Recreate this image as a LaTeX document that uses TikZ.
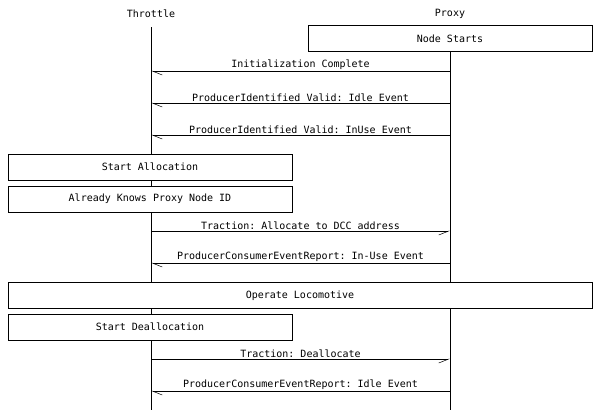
\documentclass[tikz,border=0pt]{standalone}
\usepackage{fontspec}
\setmonofont{DejaVu Sans Mono}
\usetikzlibrary{arrows.meta,positioning}
\tikzset
{
    entity/.style   = {font=\ttfamily\fontsize{10}{12}\selectfont, inner sep=0pt},
    action/.style   = {rectangle, draw=black, fill=white, line width=0.8pt, minimum width=284pt, minimum height=26pt, inner sep=0pt, font=\ttfamily\fontsize{10}{12}\selectfont},
    lifeline/.style = {line width=0.8pt},
    msgleft/.style  = {line width=0.8pt, -{Straight Barb[harpoon, length=10pt, width=8pt, line width=0.5pt]}},
    msgright/.style = {line width=0.8pt, -{Straight Barb[harpoon, swap, length=10pt, width=8pt, line width=0.5pt]}},
    msglabel/.style = {above, inner sep=1.2pt, font=\ttfamily\fontsize{10}{12}\selectfont}
}

\begin{document}
\begin{tikzpicture}[x=1pt, y=-1pt]

   \newcommand\THROTTLEX{151}
   \newcommand\PROXYX{450}

   \useasboundingbox (0,0) rectangle (600,410);

   % entities
   \node (th)   [entity] at (\THROTTLEX, 14) {Throttle};
   \node (px)   [entity] at (\PROXYX, 14)    {Proxy};
   \coordinate (thtop) at (\THROTTLEX, 27);
   \coordinate (pxtop) at (\PROXYX, 27);
   \coordinate (thend) at (\THROTTLEX, 410);
   \coordinate (pxend) at (\PROXYX, 410);

   \draw[lifeline] (thtop) -- (thend);
   \draw[lifeline] (pxtop) -- (pxend);

   % boxes
   \node (start)  [action] at (450, 38.5)  {Node Starts};
   \node (alloc)  [action] at (150, 167)   {Start Allocation};
   \node (knows)  [action] at (150, 199)   {Already Knows Proxy Node ID};
   \node (oper)   [action, minimum width=584pt] at (300, 295.5) {Operate Locomotive};
   \node (dealloc)[action] at (150, 327)   {Start Deallocation};

   % message end points
   \foreach \n/\y in {1/71, 2/103, 3/135, 4/231, 5/263, 6/359, 7/391}
   {
      \coordinate (th\n) at (\THROTTLEX, \y);
      \coordinate (px\n) at (\PROXYX, \y);
   }

   \path
      (px1) edge[msgleft]  node[msglabel] {Initialization Complete} (th1)
      (px2) edge[msgleft]  node[msglabel] {ProducerIdentified Valid: Idle Event} (th2)
      (px3) edge[msgleft]  node[msglabel] {ProducerIdentified Valid: InUse Event} (th3)
      (th4) edge[msgright] node[msglabel] {Traction: Allocate to DCC address} (px4)
      (px5) edge[msgleft]  node[msglabel] {ProducerConsumerEventReport: In-Use Event} (th5)
      (th6) edge[msgright] node[msglabel] {Traction: Deallocate} (px6)
      (px7) edge[msgleft]  node[msglabel] {ProducerConsumerEventReport: Idle Event} (th7);
\end{tikzpicture}
\end{document}
